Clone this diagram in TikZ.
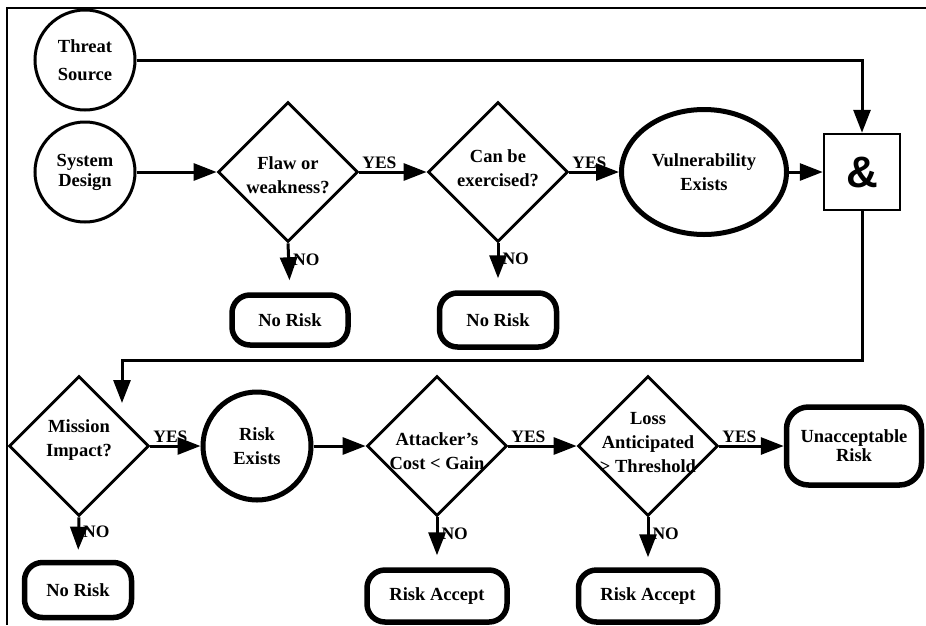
\documentclass[tikz,border=0pt]{standalone}
\usepackage{fontspec}
\setmainfont{Liberation Serif}
\newfontfamily\ampfont{Liberation Sans}
\usetikzlibrary{arrows.meta, shapes.geometric}

\begin{document}
\begin{tikzpicture}[x=1pt, y=-1pt,
  font=\fontsize{18.5}{24}\selectfont\bfseries,
  src/.style={draw, circle, line width=3pt, minimum size=100pt, inner sep=0pt, align=center},
  state/.style={draw, circle, line width=5pt, minimum size=108pt, inner sep=0pt, align=center},
  query/.style={draw, diamond, aspect=1, line width=2.8pt, minimum width=140pt, minimum height=140pt, inner sep=0pt},
  qtext/.style={align=center, inner sep=0pt},
  outcome/.style={draw, rectangle, rounded corners=18pt, line width=5.5pt, align=center, inner sep=0pt},
  arr/.style={line width=3pt, -{Triangle[length=23pt, width=17pt]}},
  yes/.style={font=\fontsize{17.5}{17.5}\selectfont\bfseries, inner sep=1.5pt, anchor=south west},
  no/.style={font=\fontsize{17.5}{17.5}\selectfont\bfseries, inner sep=3pt, anchor=west, pos=0.33}]
  \useasboundingbox (0,0) rectangle (926,625);
  \draw[line width=1.5pt] (926,8) -- (7,8) -- (7,625);

  % upper row
  \node[src] (threat) at (85,60) {Threat\\[4pt]Source};
  \node[src] (design) at (85,172) {System\\[-4pt]Design};
  \node[query, label={[qtext, yshift=-3pt]center:{Flaw or\\weakness?}}] (flaw) at (288,172) {};
  \node[query, label={[qtext, yshift=4pt]center:{Can be\\exercised?}}] (exer) at (498,172) {};
  \node[draw, ellipse, line width=5pt, minimum width=165pt, minimum height=125pt, align=center] (vuln) at (704,172) {Vulnerability\\Exists};
  \node[draw, line width=2.5pt, minimum size=76pt, font=\ampfont\fontsize{44}{44}\selectfont\bfseries] (amp) at (862,172) {\&};
  \node[outcome, minimum width=116pt, minimum height=50pt] (norisk1) at (290,320) {No Risk};
  \node[outcome, minimum width=117pt, minimum height=54pt] (norisk2) at (498,320) {No Risk};

  % lower row
  \node[query, label={[qtext, yshift=6pt]center:{Mission\\Impact?}}] (mission) at (79,446) {};
  \node[state] (riskex) at (257,446) {Risk\\Exists};
  \node[query, label={[qtext, yshift=-5pt]center:{Attacker's\\Cost < Gain}}] (gain) at (437,446) {};
  \node[query, label={[qtext, yshift=3pt]center:{Loss\\Anticipated\\> Threshold}}] (loss) at (648,446) {};
  \node[outcome, minimum width=135pt, minimum height=78pt, rounded corners=22pt] (unacc) at (854,446) {Unacceptable\\[-5pt]Risk};
  \node[outcome, minimum width=107pt, minimum height=55pt] (norisk3) at (78,590) {No Risk};
  \node[outcome, minimum width=140pt, minimum height=52pt] (accept1) at (437,596) {Risk Accept};
  \node[outcome, minimum width=139pt, minimum height=52pt] (accept2) at (648,596) {Risk Accept};

  \coordinate (back) at (122,360);
  \coordinate (mhit) at (122,403);

  % connectors
  \draw[arr] (threat.east) -| (amp.north);
  \draw[arr] (design.east) -- (flaw.west);
  \draw[arr] (flaw.east) -- node[yes, pos=0] {YES} (exer.west);
  \draw[arr] (exer.east) -- node[yes, pos=0] {YES} (vuln.west);
  \draw[arr] (vuln.east) -- (amp.west);
  \draw[arr, shorten >=12pt] (flaw.south) -- node[no] {NO} (norisk1.north);
  \draw[arr, shorten >=12pt] (exer.south) -- node[no] {NO} (norisk2.north);
  \draw[arr] (amp.south) |- (back) -- (mhit);
  \draw[arr] (mission.east) -- node[yes, pos=0] {YES} (riskex.west);
  \draw[arr] (riskex.east) -- (gain.west);
  \draw[arr] (gain.east) -- node[yes, pos=0] {YES} (loss.west);
  \draw[arr] (loss.east) -- node[yes, pos=0] {YES} (unacc.west);
  \draw[arr, shorten >=10pt] (mission.south) -- node[no] {NO} (norisk3.north);
  \draw[arr, shorten >=12pt] (gain.south) -- node[no] {NO} (accept1.north);
  \draw[arr, shorten >=10pt] (loss.south) -- node[no] {NO} (accept2.north);
\end{tikzpicture}
\end{document}
